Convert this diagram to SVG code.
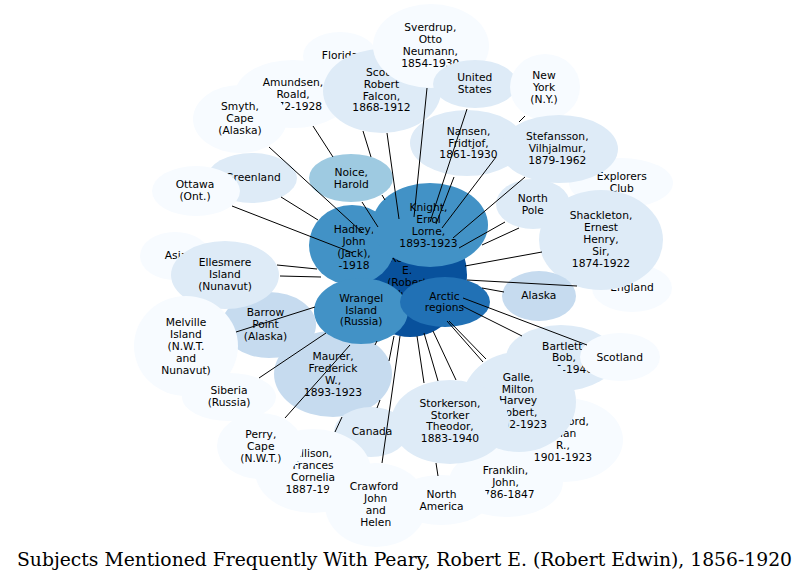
<svg xmlns="http://www.w3.org/2000/svg" width="809" height="583" viewBox="0 0 809 583">
<style>
text{font-family:"DejaVu Sans","Liberation Sans",sans-serif;font-size:10.7px;fill:#000;text-anchor:middle}
ellipse{stroke:none}
.b0{fill:#f7fbff}.b1{fill:#deebf7}.b2{fill:#c6dbef}.b3{fill:#9ecae1}.b5{fill:#4292c6}.b6{fill:#2171b5}.b7{fill:#08519c}
#edges path{stroke:#000;stroke-width:1;fill:none}
.title{font-family:"DejaVu Serif","Liberation Serif",serif;font-stretch:condensed;font-size:18.5px}
</style>
<rect width="809" height="583" fill="#fff"/>
<g id="n-florida"><ellipse class="b0" cx="340" cy="56" rx="37" ry="24"/><text x="340" y="58.9">Florida</text></g>
<g id="n-amundsen"><ellipse class="b0" cx="293" cy="94" rx="58" ry="34"/><text x="293" y="86">Amundsen,</text><text x="293" y="97.9">Roald,</text><text x="293" y="109.8">1872-1928</text></g>
<g id="n-smyth"><ellipse class="b0" cx="240" cy="119" rx="47" ry="34"/><text x="240" y="110.3">Smyth,</text><text x="240" y="122.2">Cape</text><text x="240" y="134.1">(Alaska)</text></g>
<g id="n-scott"><ellipse class="b1" cx="382" cy="91" rx="59" ry="42"/><text x="381.5" y="75.7">Scott,</text><text x="381.5" y="87.6">Robert</text><text x="381.5" y="99.5">Falcon,</text><text x="381.5" y="111.4">1868-1912</text></g>
<g id="n-sverdrup"><ellipse class="b0" cx="431" cy="46" rx="58" ry="42"/><text x="430.3" y="31.4">Sverdrup,</text><text x="430.3" y="43.3">Otto</text><text x="430.3" y="55.2">Neumann,</text><text x="430.3" y="67.1">1854-1930</text></g>
<g id="n-us"><ellipse class="b1" cx="475" cy="84" rx="42" ry="24"/><text x="474.7" y="81.3">United</text><text x="474.7" y="93.2">States</text></g>
<g id="n-ny"><ellipse class="b0" cx="545" cy="87" rx="35" ry="33"/><text x="544" y="79">New</text><text x="544" y="90.9">York</text><text x="544" y="102.8">(N.Y.)</text></g>
<g id="n-nansen"><ellipse class="b1" cx="467" cy="143" rx="57" ry="33"/><text x="468.5" y="134.6">Nansen,</text><text x="468.5" y="146.5">Fridtjof,</text><text x="468.5" y="158.4">1861-1930</text></g>
<g id="n-explorers"><ellipse class="b0" cx="621" cy="183" rx="52" ry="25"/><text x="621.7" y="180">Explorers</text><text x="621.7" y="191.9">Club</text></g>
<g id="n-stefansson"><ellipse class="b1" cx="559" cy="149" rx="59" ry="34"/><text x="557.3" y="139.7">Stefansson,</text><text x="557.3" y="151.6">Vilhjalmur,</text><text x="557.3" y="163.5">1879-1962</text></g>
<g id="n-northpole"><ellipse class="b1" cx="533" cy="204" rx="37" ry="25"/><text x="532.8" y="202.2">North</text><text x="532.8" y="214.1">Pole</text></g>
<g id="n-england"><ellipse class="b0" cx="632" cy="288" rx="40" ry="24"/><text x="632" y="291.2">England</text></g>
<g id="n-shackleton"><ellipse class="b1" cx="601" cy="240" rx="62" ry="50"/><text x="601" y="219">Shackleton,</text><text x="601" y="230.9">Ernest</text><text x="601" y="242.8">Henry,</text><text x="601" y="254.7">Sir,</text><text x="601" y="266.6">1874-1922</text></g>
<g id="n-alaska"><ellipse class="b2" cx="539" cy="296" rx="37" ry="25"/><text x="538.8" y="298.9">Alaska</text></g>
<g id="n-bartlett"><ellipse class="b1" cx="561" cy="358" rx="55" ry="33"/><text x="564" y="349.5">Bartlett,</text><text x="564" y="361.4">Bob,</text><text x="564" y="373.3">1875-1946</text></g>
<g id="n-scotland"><ellipse class="b0" cx="620" cy="357" rx="40" ry="24"/><text x="619.7" y="360.6">Scotland</text></g>
<g id="n-franklin"><ellipse class="b0" cx="506" cy="482" rx="57" ry="35"/><text x="505.5" y="474.3">Franklin,</text><text x="505.5" y="486.2">John,</text><text x="505.5" y="498.1">1786-1847</text></g>
<g id="n-crawford-allan"><ellipse class="b0" cx="565" cy="440" rx="58" ry="42"/><text x="563" y="425.3">Crawford,</text><text x="563" y="437.2">Allan</text><text x="563" y="449.1">R.,</text><text x="563" y="461">1901-1923</text></g>
<g id="n-galle"><ellipse class="b1" cx="519" cy="402" rx="57" ry="50"/><text x="518" y="380.6">Galle,</text><text x="518" y="392.5">Milton</text><text x="518" y="404.4">Harvey</text><text x="518" y="416.3">Robert,</text><text x="518" y="428.2">1902-1923</text></g>
<g id="n-maurer"><ellipse class="b2" cx="333" cy="374" rx="59" ry="43"/><text x="333" y="360">Maurer,</text><text x="333" y="371.9">Frederick</text><text x="333" y="383.8">W.,</text><text x="333" y="395.7">1893-1923</text></g>
<g id="n-canada"><ellipse class="b1" cx="371" cy="432" rx="37" ry="25"/><text x="372" y="434.9">Canada</text></g>
<g id="n-storkerson"><ellipse class="b1" cx="450" cy="422" rx="59" ry="42"/><text x="450" y="406.6">Storkerson,</text><text x="450" y="418.5">Storker</text><text x="450" y="430.4">Theodor,</text><text x="450" y="442.3">1883-1940</text></g>
<g id="n-allison"><ellipse class="b0" cx="313" cy="471" rx="58" ry="42"/><text x="313" y="456.9">Allison,</text><text x="313" y="468.8">Frances</text><text x="313" y="480.7">Cornelia</text><text x="285.5" y="492.6" style="text-anchor:start">1887-19</text></g>
<g id="n-crawford-john"><ellipse class="b0" cx="376" cy="505" rx="51" ry="42"/><text x="375.7" y="490">Crawford,</text><text x="375.7" y="501.9">John</text><text x="375.7" y="513.8">and</text><text x="375.7" y="525.7">Helen</text></g>
<g id="n-northamerica"><ellipse class="b0" cx="441" cy="500" rx="48" ry="25"/><text x="441.5" y="498">North</text><text x="441.5" y="509.9">America</text></g>
<g id="n-perry"><ellipse class="b0" cx="260" cy="446" rx="43" ry="33"/><text x="260.8" y="437.8">Perry,</text><text x="260.8" y="449.7">Cape</text><text x="260.8" y="461.6">(N.W.T.)</text></g>
<g id="n-barrow"><ellipse class="b2" cx="269" cy="325" rx="47" ry="33"/><text x="265.5" y="316">Barrow</text><text x="265.5" y="327.9">Point</text><text x="265.5" y="339.8">(Alaska)</text></g>
<g id="n-asia"><ellipse class="b0" cx="175" cy="256" rx="35" ry="24"/><text x="176" y="258.9">Asia</text></g>
<g id="n-ellesmere"><ellipse class="b1" cx="225" cy="275" rx="54" ry="34"/><text x="225" y="266">Ellesmere</text><text x="225" y="277.9">Island</text><text x="225" y="289.8">(Nunavut)</text></g>
<g id="n-melville"><ellipse class="b0" cx="186" cy="346" rx="52" ry="50"/><text x="186" y="326.1">Melville</text><text x="186" y="338">Island</text><text x="186" y="349.9">(N.W.T.</text><text x="186" y="361.8">and</text><text x="186" y="373.7">Nunavut)</text></g>
<g id="n-siberia"><ellipse class="b0" cx="229" cy="397" rx="47" ry="24"/><text x="229" y="394">Siberia</text><text x="229" y="405.9">(Russia)</text></g>
<g id="n-greenland"><ellipse class="b1" cx="252" cy="178" rx="45" ry="25"/><text x="253" y="180.9">Greenland</text></g>
<g id="n-ottawa"><ellipse class="b0" cx="196" cy="191" rx="44" ry="25"/><text x="195" y="188">Ottawa</text><text x="195" y="199.9">(Ont.)</text></g>
<g id="n-noice"><ellipse class="b3" cx="351" cy="178" rx="42" ry="24"/><text x="351.2" y="176">Noice,</text><text x="351.2" y="187.9">Harold</text></g>
<g id="n-peary"><ellipse class="b7" cx="410" cy="275" rx="57" ry="62"/><text x="407" y="250.2">Peary,</text><text x="407" y="262.1">Robert</text><text x="407" y="274">E.</text><text x="407" y="285.9">(Robert</text><text x="407" y="297.8">Edwin),</text><text x="407" y="309.7">1856-1920</text></g>
<g id="n-hadley"><ellipse class="b5" cx="352" cy="245" rx="43" ry="40"/><text x="354" y="232.8">Hadley,</text><text x="354" y="244.7">John</text><text x="354" y="256.6">(Jack),</text><text x="354" y="268.5">-1918</text></g>
<g id="n-knight"><ellipse class="b5" cx="430" cy="225" rx="58" ry="42"/><text x="428.5" y="211.1">Knight,</text><text x="428.5" y="223">Errol</text><text x="428.5" y="234.9">Lorne,</text><text x="428.5" y="246.8">1893-1923</text></g>
<g id="n-wrangel"><ellipse class="b5" cx="361" cy="311" rx="47" ry="33"/><text x="361.2" y="301.6">Wrangel</text><text x="361.2" y="313.5">Island</text><text x="361.2" y="325.4">(Russia)</text></g>
<g id="n-arctic"><ellipse class="b6" cx="445" cy="302" rx="45" ry="25"/><text x="444.5" y="299.5">Arctic</text><text x="444.5" y="311.4">regions</text></g>
<g id="edges">
<path d="M269,147L363,233"/>
<path d="M232,206L353,253"/>
<path d="M281,197L318,220"/>
<path d="M313,126L333,157M362,202L378,227"/>
<path d="M363,131L371,157M382,195L385,200"/>
<path d="M387,133L399,219"/>
<path d="M427,88L414,217"/>
<path d="M467,109L430,222"/>
<path d="M454,177L436,224"/>
<path d="M525,116L519,122M496,157L442,228"/>
<path d="M525,177L453,238"/>
<path d="M505,222L459,248"/>
<path d="M519,228L482,245"/>
<path d="M542,252L465,266"/>
<path d="M577,286L467,280"/>
<path d="M482,288L504,292"/>
<path d="M463,298L587,345"/>
<path d="M462,306L522,336"/>
<path d="M447,321L483,362"/>
<path d="M449,321L486,359"/>
<path d="M433,331L456,380"/>
<path d="M424,333L438,381"/>
<path d="M417,336L424,383M436,463L438,476"/>
<path d="M400,336L382,463"/>
<path d="M394,336L389,361M380,400L377,408"/>
<path d="M377,341L375,345M342,417L335,432"/>
<path d="M350,345L285,418"/>
<path d="M259,378L326,333"/>
<path d="M236,332L315,307"/>
<path d="M280,276L321,277"/>
<path d="M277,265L317,269"/>
</g>
<text class="title" x="404.5" y="566" textLength="775" lengthAdjust="spacingAndGlyphs">Subjects Mentioned Frequently With Peary, Robert E. (Robert Edwin), 1856-1920</text>
</svg>
